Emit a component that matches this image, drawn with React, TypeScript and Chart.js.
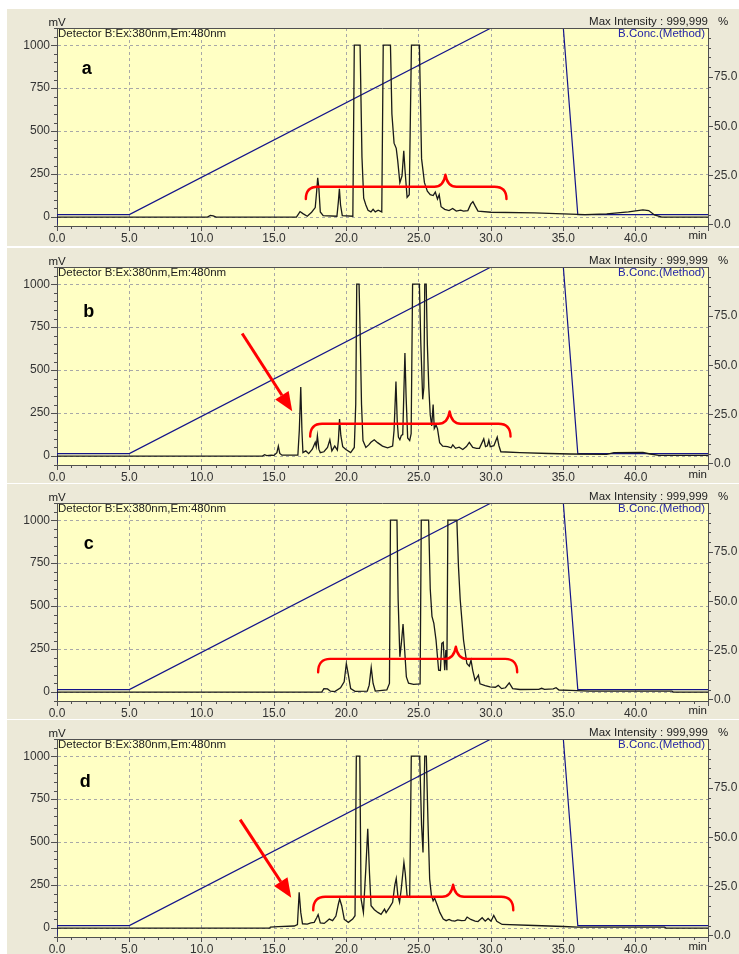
import React, { useEffect, useRef } from 'react';
import { Chart, registerables } from 'chart.js';
Chart.register(...registerables);

type Pt = [number, number];

// ---------- axis ticks ----------
const timeTicks = [0, 5, 10, 15, 20, 25, 30, 35, 40, 45];
const mvTicks = [0, 250, 500, 750, 1000];
const pctTicks = [0, 25, 50, 75];

// ---------- B.Conc (method gradient) ----------
const gradientTime = [0, 0, 5, 30, 35, 36, 45];
const gradientPct = [0, 5, 5, 100, 100, 5, 5];

// ---------- chromatograms (time min, mV) ----------
const traceA: Pt[] = [
  [0, 0], [10.4, 0], [10.6, 10], [10.8, 7], [11.0, 0], [16.55, 0], [16.8, 32], [17.0, 20], [17.3, 5],
  [17.6, 28], [17.85, 55], [17.95, 150], [18.02, 228], [18.1, 170], [18.2, 30], [18.4, 8], [19.35, 5],
  [19.45, 90], [19.52, 165], [19.6, 70], [19.72, 8], [20.45, 5], [20.55, 1000], [20.95, 1000],
  [21.08, 350], [21.2, 110], [21.35, 70], [21.5, 40], [21.7, 30], [21.85, 45], [22.0, 30], [22.2, 40],
  [22.45, 30], [22.55, 1000], [23.05, 1000], [23.15, 600], [23.3, 430], [23.45, 400], [23.55, 330],
  [23.7, 200], [23.85, 240], [23.97, 385], [24.05, 280], [24.2, 115], [24.35, 130], [24.5, 1000],
  [25.05, 1000], [25.2, 340], [25.4, 200], [25.6, 150], [25.8, 130], [26.0, 125], [26.15, 145],
  [26.3, 105], [26.42, 130], [26.55, 60], [26.8, 45], [27.1, 38], [27.35, 50], [27.6, 35], [27.9, 40],
  [28.1, 35], [28.4, 38], [28.6, 75], [28.75, 90], [28.9, 65], [29.1, 35], [30, 28], [33, 24], [35, 18],
  [36.5, 14], [38, 18], [39.5, 30], [40.5, 42], [40.9, 38], [41.3, 12], [41.8, 0], [45, 0],
];

const traceB: Pt[] = [
  [0, 0], [14.2, 0], [14.35, 8], [14.5, 3], [14.8, 6], [15.0, 4], [15.2, 20], [15.3, 58], [15.4, 15],
  [15.55, 5], [16.65, 5], [16.75, 150], [16.85, 402], [16.93, 150], [17.0, 20], [17.2, 30], [17.4, 14],
  [17.65, 40], [17.85, 80], [17.92, 55], [18.0, 118], [18.1, 40], [18.2, 20], [18.45, 25], [18.7, 50],
  [18.86, 95], [19.0, 30], [19.2, 58], [19.38, 35], [19.45, 90], [19.53, 215], [19.62, 120], [19.75, 55],
  [19.97, 38], [20.3, 20], [20.55, 50], [20.65, 300], [20.72, 1000], [20.88, 1000], [20.95, 735],
  [21.05, 300], [21.15, 90], [21.35, 50], [21.55, 65], [21.7, 80], [21.93, 95], [22.16, 78], [22.5, 58],
  [22.85, 48], [23.2, 58], [23.3, 150], [23.43, 433], [23.52, 200], [23.6, 110], [23.7, 95], [23.8, 120],
  [23.9, 125], [23.97, 350], [24.05, 600], [24.13, 350], [24.24, 105], [24.38, 90], [24.48, 130],
  [24.58, 1000], [25.05, 1000], [25.15, 650], [25.28, 330], [25.36, 400], [25.42, 1000], [25.52, 1000],
  [25.6, 650], [25.7, 400], [25.8, 240], [25.9, 175], [26.0, 300], [26.08, 160], [26.2, 180], [26.3, 160],
  [26.45, 78], [26.66, 58], [27.0, 55], [27.24, 48], [27.36, 65], [27.55, 45], [27.8, 52], [28.05, 38],
  [28.3, 55], [28.5, 80], [28.74, 50], [29.0, 45], [29.2, 45], [29.5, 100], [29.62, 55], [29.75, 60],
  [29.85, 92], [29.95, 55], [30.2, 60], [30.43, 110], [30.55, 60], [30.68, 25], [32, 20], [34, 15],
  [35.5, 12], [38, 10], [38.5, 20], [40.5, 22], [41, 12], [41.6, 4], [45, 4],
];

const traceC: Pt[] = [
  [0, 0], [18.3, 0], [18.45, 20], [18.7, 18], [18.9, 5], [19.2, 3], [19.6, 25], [19.85, 60], [20.0, 166],
  [20.12, 110], [20.3, 20], [20.6, 4], [21.45, 6], [21.58, 40], [21.72, 143], [21.85, 50], [22.0, 6],
  [22.8, 12], [22.98, 50], [23.05, 1000], [23.5, 1000], [23.58, 540], [23.7, 205], [23.8, 280],
  [23.92, 396], [24.02, 260], [24.15, 88], [24.3, 52], [24.65, 45], [25.1, 48], [25.18, 1000],
  [25.69, 1000], [25.8, 600], [25.92, 440], [26.05, 400], [26.2, 303], [26.38, 127], [26.5, 125],
  [26.6, 283], [26.7, 290], [26.8, 127], [26.88, 244], [26.95, 127], [27.02, 1000], [27.64, 1000],
  [27.75, 732], [27.87, 540], [28.1, 303], [28.33, 166], [28.5, 150], [28.62, 185], [28.74, 125],
  [28.9, 68], [29.13, 98], [29.24, 48], [29.6, 38], [29.93, 30], [30.3, 28], [30.5, 39], [30.73, 20],
  [31.0, 25], [31.26, 53], [31.5, 20], [32, 15], [33.3, 16], [33.5, 22], [33.7, 16], [34.3, 18],
  [34.5, 25], [34.7, 12], [35.5, 10], [36.8, 6], [42.5, 6], [42.6, 0], [45, 0],
];

const traceD: Pt[] = [
  [0, 0], [14.7, 0], [14.75, 6], [15.3, 8], [16.4, 12], [16.62, 20], [16.74, 208], [16.85, 91],
  [16.97, 25], [17.3, 23], [17.55, 30], [17.78, 33], [17.95, 60], [18.05, 78], [18.2, 30], [18.47, 27],
  [18.65, 40], [18.82, 52], [19.05, 43], [19.28, 70], [19.45, 140], [19.54, 169], [19.68, 130],
  [19.86, 50], [20.14, 33], [20.44, 52], [20.6, 72], [20.69, 1000], [20.93, 1000], [21.02, 169],
  [21.18, 91], [21.35, 350], [21.48, 577], [21.6, 320], [21.71, 130], [21.94, 107], [22.18, 91],
  [22.4, 80], [22.64, 110], [22.75, 90], [22.99, 120], [23.2, 150], [23.35, 250], [23.45, 289],
  [23.56, 190], [23.68, 150], [23.8, 230], [23.98, 382], [24.07, 320], [24.2, 188], [24.38, 180],
  [24.49, 1000], [25.07, 1000], [25.2, 600], [25.3, 440], [25.42, 1000], [25.53, 1000], [25.65, 600],
  [25.76, 285], [25.88, 190], [26.0, 159], [26.1, 175], [26.3, 130], [26.46, 91], [26.7, 52], [26.9, 43],
  [27.1, 50], [27.27, 43], [27.5, 40], [27.7, 48], [27.96, 43], [28.2, 45], [28.35, 64], [28.6, 50],
  [28.9, 40], [29.1, 38], [29.39, 60], [29.6, 40], [29.8, 56], [30.0, 40], [30.19, 73], [30.4, 40],
  [30.77, 21], [33, 15], [35, 9], [36, 5], [42, 5], [42.1, 0], [45, 0],
];

// ---------- annotations (data units: min, mV) ----------
type Brace = { start: number; tip: number; end: number; line: number; ends: number; peak: number };
const braceA: Brace = { start: 17.2, tip: 26.85, end: 31.07, line: 176, ends: 105, peak: 246 };
const braceB: Brace = { start: 17.5, tip: 27.14, end: 31.35, line: 188, ends: 114, peak: 259 };
const braceC: Brace = { start: 18.05, tip: 27.57, end: 31.81, line: 193, ends: 115, peak: 264 };
const braceD: Brace = { start: 17.71, tip: 27.38, end: 31.54, line: 182, ends: 104, peak: 252 };

type Arrow = { from: Pt; to: Pt };
const arrowB: Arrow = { from: [12.8, 713], to: [16.26, 261] };
const arrowD: Arrow = { from: [12.66, 631], to: [16.19, 177] };

const letterPosA: Pt = [2.05, 860];
const letterPosB: Pt = [2.2, 836];
const letterPosC: Pt = [2.2, 860];
const letterPosD: Pt = [1.95, 852];

// ---------- styles ----------
const FONT = '"Liberation Sans", Arial, sans-serif';
const PANEL_BG = '#ECE9D8';
const PLOT_BG = '#FFFFC4';
const AXIS = '#505050';
const GRID = '#A8A8A8';
const TEXT = '#222222';
const BLUE_TEXT = '#2424A8';
const B_LINE = '#14148A';
const RED = '#FF0000';

type PanelProps = {
  top: number; height: number; trace: Pt[]; letter: string; letterAt: Pt; brace: Brace; arrow?: Arrow;
};

function Panel(p: PanelProps) {
  const ref = useRef<HTMLCanvasElement>(null);
  useEffect(() => {
    const canvas = ref.current!;
    const plotTop = 19;
    const plotH = 198;
    const xAxisH = p.height - plotTop - plotH;

    const deco = {
      id: 'deco',
      beforeDraw(chart: any) {
        const { ctx, chartArea: a, width, height } = chart;
        ctx.save();
        ctx.fillStyle = PANEL_BG;
        ctx.fillRect(0, 0, width, height);
        ctx.fillStyle = PLOT_BG;
        ctx.fillRect(a.left, a.top, a.right - a.left, a.bottom - a.top);
        ctx.restore();
      },
      afterDatasetsDraw(chart: any) {
        const { ctx } = chart;
        const xs = chart.scales.x;
        const ys = chart.scales.y;
        const b = p.brace;
        const x0 = xs.getPixelForValue(b.start);
        const xt = xs.getPixelForValue(b.tip);
        const x1 = xs.getPixelForValue(b.end);
        const yl = ys.getPixelForValue(b.line);
        const ye = ys.getPixelForValue(b.ends);
        const yt = ys.getPixelForValue(b.peak);
        ctx.save();
        ctx.strokeStyle = RED;
        ctx.lineWidth = 2.4;
        ctx.lineCap = 'round';
        ctx.lineJoin = 'round';
        ctx.beginPath();
        ctx.moveTo(x0, ye);
        ctx.quadraticCurveTo(x0, yl, x0 + 12, yl);
        ctx.lineTo(xt - 11, yl);
        ctx.quadraticCurveTo(xt - 2, yl, xt, yt);
        ctx.quadraticCurveTo(xt + 2, yl, xt + 11, yl);
        ctx.lineTo(x1 - 12, yl);
        ctx.quadraticCurveTo(x1, yl, x1, ye);
        ctx.stroke();

        if (p.arrow) {
          const ax0 = xs.getPixelForValue(p.arrow.from[0]);
          const ay0 = ys.getPixelForValue(p.arrow.from[1]);
          const ax1 = xs.getPixelForValue(p.arrow.to[0]);
          const ay1 = ys.getPixelForValue(p.arrow.to[1]);
          const ang = Math.atan2(ay1 - ay0, ax1 - ax0);
          const headL = 19;
          const headW = 8;
          const bx = ax1 - headL * Math.cos(ang);
          const by = ay1 - headL * Math.sin(ang);
          ctx.lineWidth = 3;
          ctx.lineCap = 'butt';
          ctx.beginPath();
          ctx.moveTo(ax0, ay0);
          ctx.lineTo(bx, by);
          ctx.stroke();
          ctx.fillStyle = RED;
          ctx.beginPath();
          ctx.moveTo(ax1, ay1);
          ctx.lineTo(bx + headW * Math.sin(ang), by - headW * Math.cos(ang));
          ctx.lineTo(bx - headW * Math.sin(ang), by + headW * Math.cos(ang));
          ctx.closePath();
          ctx.fill();
        }

        ctx.fillStyle = '#000';
        ctx.font = `bold 18px ${FONT}`;
        ctx.textAlign = 'center';
        ctx.textBaseline = 'middle';
        ctx.fillText(p.letter, xs.getPixelForValue(p.letterAt[0]), ys.getPixelForValue(p.letterAt[1]));
        ctx.restore();
      },
      afterDraw(chart: any) {
        const { ctx, chartArea: a } = chart;
        const xs = chart.scales.x;
        const ys = chart.scales.y;
        const y1 = chart.scales.y1;
        ctx.save();
        ctx.strokeStyle = AXIS;
        ctx.lineWidth = 1;
        ctx.beginPath();
        ctx.moveTo(a.left, a.top + 0.5);
        ctx.lineTo(a.right, a.top + 0.5);
        for (let t = 1; t < 45; t++) {
          if (t % 5 === 0) continue;
          const x = Math.round(xs.getPixelForValue(t)) + 0.5;
          ctx.moveTo(x, a.bottom);
          ctx.lineTo(x, a.bottom + 3);
        }
        for (let v = -50; v <= 1100; v += 50) {
          if (v % 250 === 0) continue;
          const y = Math.round(ys.getPixelForValue(v)) + 0.5;
          ctx.moveTo(a.left - 3, y);
          ctx.lineTo(a.left, y);
        }
        for (let v = 5; v < 100; v += 5) {
          if (v % 25 === 0) continue;
          const y = Math.round(y1.getPixelForValue(v)) + 0.5;
          ctx.moveTo(a.right, y);
          ctx.lineTo(a.right + 3, y);
        }
        ctx.stroke();

        ctx.font = `11.5px ${FONT}`;
        ctx.fillStyle = TEXT;
        ctx.textBaseline = 'middle';
        ctx.textAlign = 'center';
        ctx.fillText('mV', a.left, a.top - 5.5);
        ctx.textAlign = 'right';
        ctx.fillText('Max Intensity : 999,999', a.right, a.top - 6);
        ctx.textAlign = 'left';
        ctx.fillText('%', a.right + 10, a.top - 6);
        ctx.fillText('Detector B:Ex:380nm,Em:480nm', a.left + 1, a.top + 5.5);
        ctx.textAlign = 'right';
        ctx.fillText('min', a.right - 1, a.bottom + 10);
        ctx.fillStyle = BLUE_TEXT;
        ctx.fillText('B.Conc.(Method)', a.right - 3, a.top + 5.5);
        ctx.restore();
      },
    };

    const tickFont = { family: FONT, size: 12 };
    const chart = new Chart(canvas, {
      type: 'line',
      data: {
        datasets: [
          {
            data: p.trace.map(([x, y]) => ({ x, y })),
            borderColor: '#1a1a1a',
            borderWidth: 1.3,
            pointRadius: 0,
            tension: 0,
            yAxisID: 'y',
            order: 1,
          },
          {
            data: gradientTime.map((t, i) => ({ x: t, y: gradientPct[i] })),
            borderColor: B_LINE,
            borderWidth: 1.2,
            pointRadius: 0,
            tension: 0,
            yAxisID: 'y1',
            order: 2,
          },
        ],
      },
      options: {
        animation: false,
        responsive: false,
        maintainAspectRatio: false,
        events: [],
        layout: { padding: { top: plotTop, left: 0, right: 0, bottom: 0 } },
        plugins: { legend: { display: false }, tooltip: { enabled: false } },
        scales: {
          x: {
            type: 'linear',
            min: 0,
            max: 45,
            afterBuildTicks: (s: any) => { s.ticks = timeTicks.map((v) => ({ value: v })); },
            afterFit: (s: any) => { s.height = xAxisH; },
            ticks: {
              autoSkip: false,
              maxRotation: 0,
              padding: 0,
              color: '#333',
              font: tickFont,
              callback: (v: any) => (Number(v) === 45 ? '' : Number(v).toFixed(1)),
            },
            grid: {
              color: (c: any) => (c.tick && (c.tick.value === 0 || c.tick.value === 45) ? 'rgba(0,0,0,0)' : GRID),
              tickColor: AXIS,
              tickLength: 5,
            },
            border: { display: true, color: AXIS, dash: [3, 3] },
          },
          y: {
            type: 'linear',
            position: 'left',
            min: -52,
            max: 1100,
            afterBuildTicks: (s: any) => { s.ticks = mvTicks.map((v) => ({ value: v })); },
            afterFit: (s: any) => { s.width = 50; },
            ticks: { padding: 1, color: '#333', font: tickFont, callback: (v: any) => String(v) },
            grid: { color: GRID, tickColor: AXIS, tickLength: 6 },
            border: { display: true, color: AXIS, dash: [3, 3] },
          },
          y1: {
            type: 'linear',
            position: 'right',
            min: -0.8,
            max: 100,
            afterBuildTicks: (s: any) => { s.ticks = pctTicks.map((v) => ({ value: v })); },
            afterFit: (s: any) => { s.width = 31; },
            ticks: { padding: 1, color: '#333', font: tickFont, callback: (v: any) => Number(v).toFixed(1) },
            grid: { drawOnChartArea: false, tickColor: AXIS, tickLength: 5 },
            border: { display: true, color: AXIS },
          },
        },
      },
      plugins: [deco],
    } as any);
    return () => chart.destroy();
  }, []);
  return (
    <canvas
      ref={ref}
      width={732}
      height={p.height}
      style={{ position: 'absolute', left: 7, top: p.top, width: 732, height: p.height, display: 'block' }}
    />
  );
}

export default function App() {
  useEffect(() => {
    document.body.style.margin = '0';
    document.body.style.background = '#ffffff';
  }, []);
  return (
    <div style={{ position: 'absolute', left: 0, top: 0, width: 739, height: 954, background: '#fff', overflow: 'hidden' }}>
      <Panel top={9} height={237} trace={traceA} letter="a" letterAt={letterPosA} brace={braceA} />
      <Panel top={248} height={235} trace={traceB} letter="b" letterAt={letterPosB} brace={braceB} arrow={arrowB} />
      <Panel top={484} height={235} trace={traceC} letter="c" letterAt={letterPosC} brace={braceC} />
      <Panel top={720} height={234} trace={traceD} letter="d" letterAt={letterPosD} brace={braceD} arrow={arrowD} />
    </div>
  );
}
